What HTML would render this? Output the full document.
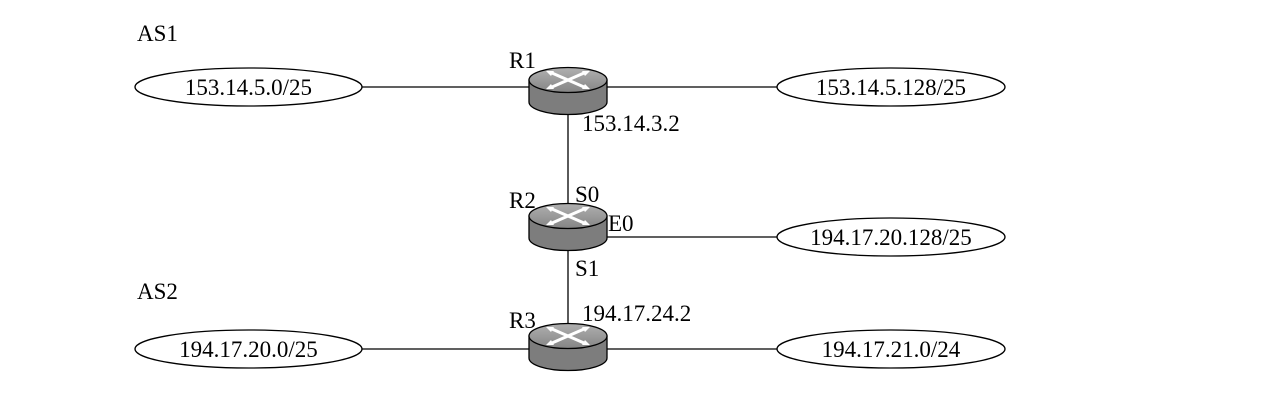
<html><body style="margin:0;background:#fff">
<svg width="1277" height="401" xmlns="http://www.w3.org/2000/svg" font-family="Liberation Serif, serif" font-size="23">
<defs>
<linearGradient id="g" x1="0" x2="0" y1="0" y2="1"><stop offset="0" stop-color="#b0b0b0"/><stop offset="1" stop-color="#858585"/></linearGradient>
<g id="r">
<path d="M-39,0 L-39,22 A39,12.5 0 0 0 39,22 L39,0 Z" fill="#7d7d7d" stroke="#000" stroke-width="1.3"/>
<ellipse cx="0" cy="0" rx="39" ry="12.5" fill="url(#g)" stroke="#000" stroke-width="1.3"/>
<g stroke="#fff" stroke-width="3" fill="none">
<path d="M-16,-7 L16,7 M16,-7 L-16,7"/>
</g>
<g fill="#fff"><path d="M-22,-9 l8,0 l-3,5z M22,-9 l-8,0 l3,5z M-22,9 l8,0 l-3,-5z M22,9 l-8,0 l3,-5z"/></g>
</g>
</defs>
<g stroke="#000" stroke-width="1.3" fill="none">
<line x1="362" y1="87" x2="777" y2="87"/>
<line x1="568" y1="100" x2="568" y2="216"/>
<line x1="568" y1="240" x2="568" y2="336"/>
<line x1="600" y1="237" x2="777" y2="237"/>
<line x1="362" y1="349" x2="777" y2="349"/>
<ellipse cx="248.5" cy="87" rx="113.5" ry="19"/>
<ellipse cx="891" cy="87" rx="114" ry="19"/>
<ellipse cx="891" cy="237" rx="114" ry="19"/>
<ellipse cx="248.5" cy="349" rx="113.5" ry="19"/>
<ellipse cx="891" cy="349" rx="114" ry="19"/>
</g>
<use href="#r" x="568" y="80"/>
<use href="#r" x="568" y="216"/>
<use href="#r" x="568" y="336"/>
<g fill="#000">
<text x="137" y="41">AS1</text>
<text x="137" y="299">AS2</text>
<text x="509" y="68">R1</text>
<text x="509" y="208">R2</text>
<text x="509" y="328">R3</text>
<text x="575" y="202">S0</text>
<text x="608" y="231">E0</text>
<text x="575" y="276">S1</text>
<text x="582" y="131">153.14.3.2</text>
<text x="582" y="321">194.17.24.2</text>
<text x="248.5" y="95" text-anchor="middle">153.14.5.0/25</text>
<text x="891" y="95" text-anchor="middle">153.14.5.128/25</text>
<text x="891" y="245" text-anchor="middle">194.17.20.128/25</text>
<text x="248.5" y="357" text-anchor="middle">194.17.20.0/25</text>
<text x="891" y="357" text-anchor="middle">194.17.21.0/24</text>
</g>
</svg>
</body></html>
